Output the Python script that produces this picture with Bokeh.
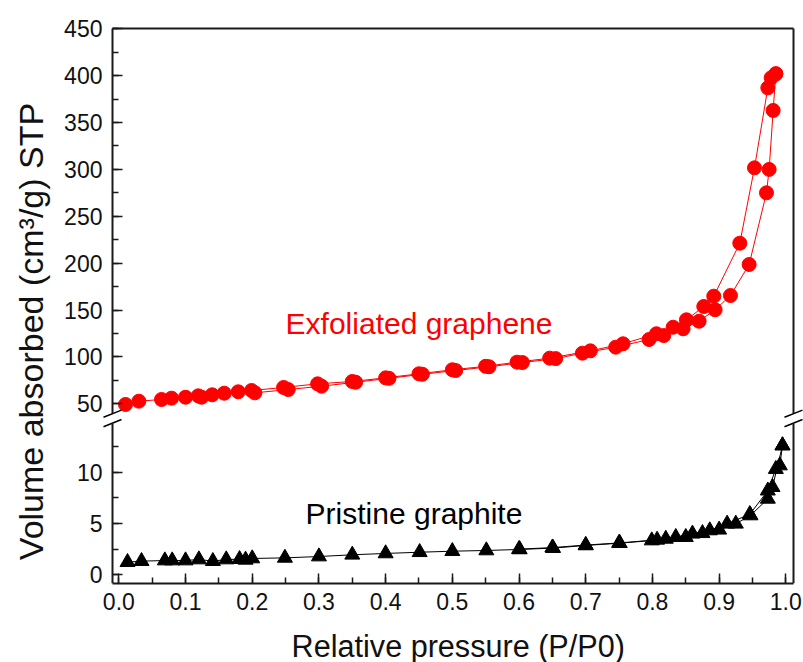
import math
from bokeh.plotting import figure
from bokeh.models import (Range1d, SingleIntervalTicker, FixedTicker, LinearAxis,
                          Label, NumeralTickFormatter)
from bokeh.layouts import row, column
from bokeh.embed import file_html
from bokeh.resources import INLINE

FONT = "Liberation Sans"

# ---------------- data ----------------
graphene_ads_x = [0.010, 0.030, 0.064, 0.079, 0.100, 0.124, 0.140, 0.158, 0.179, 0.204,
                  0.254, 0.304, 0.355, 0.405, 0.455, 0.505, 0.555, 0.605, 0.655, 0.695,
                  0.745, 0.795, 0.817, 0.846, 0.870, 0.894, 0.917, 0.945, 0.971, 0.975,
                  0.981, 0.985]
graphene_ads_y = [49.3, 52.8, 54.6, 56.0, 57.0, 57.0, 59.6, 61.3, 62.8, 61.7,
                  65.2, 68.8, 73.0, 77.2, 81.5, 85.5, 89.5, 94.0, 98.2, 104.0,
                  110.4, 118.6, 122.8, 130.0, 138.1, 150.3, 165.5, 198.6, 275.1, 300.0,
                  362.9, 402.0]
graphene_des_x = [0.985, 0.978, 0.973, 0.953, 0.931, 0.892, 0.877, 0.851, 0.831, 0.806,
                  0.756, 0.707, 0.646, 0.597, 0.550, 0.500, 0.450, 0.400, 0.350, 0.298,
                  0.247, 0.199, 0.119]
graphene_des_y = [402.0, 397.7, 387.0, 301.7, 221.3, 164.8, 153.8, 139.6, 131.7, 124.7,
                  114.0, 106.5, 98.7, 94.4, 90.0, 86.3, 82.0, 77.7, 73.8, 71.3,
                  67.4, 64.2, 58.5]

graphite_ads_x = [0.013, 0.034, 0.069, 0.080, 0.100, 0.120, 0.141, 0.161, 0.181, 0.190,
                  0.200, 0.249, 0.300, 0.350, 0.400, 0.451, 0.500, 0.551, 0.601, 0.651,
                  0.700, 0.751, 0.799, 0.820, 0.850, 0.875, 0.900, 0.925, 0.947, 0.973,
                  0.980, 0.995]
graphite_ads_y = [1.23, 1.33, 1.39, 1.39, 1.39, 1.49, 1.33, 1.49, 1.52, 1.46,
                  1.59, 1.65, 1.78, 1.95, 2.08, 2.20, 2.30, 2.37, 2.47, 2.60,
                  2.86, 3.08, 3.34, 3.50, 3.67, 4.05, 4.39, 4.97, 5.78, 7.40,
                  8.54, 12.6]
graphite_des_x = [0.995, 0.991, 0.985, 0.973, 0.946, 0.912, 0.886, 0.860, 0.835, 0.807,
                  0.750, 0.700, 0.650, 0.600]
graphite_des_y = [12.6, 10.65, 10.30, 8.20, 5.90, 4.97, 4.32, 4.00, 3.67, 3.41,
                  3.10, 2.90, 2.65, 2.50]

x_label = "Relative pressure (P/P0)"
y_label = "Volume absorbed (cm³/g) STP"
label_graphene = "Exfoliated graphene"
label_graphite = "Pristine graphite"

# ---------------- layout constants (page pixels) ----------------
PAGE_W, PAGE_H = 803, 662
YLAB_W = 52                      # strip holding the y title
PANEL_W = PAGE_W - YLAB_W
FRAME_L = 58                     # frame left edge on page (axis line drawn at 112)
B_LEFT = FRAME_L - YLAB_W
AXIS_PX_L, AXIS_PX_R = 112, 793  # page columns of the left / right axis lines
TOP_H = 418                      # top panel canvas 0..418
TOP_FRAME_T = 10                 # its frame starts at 10 (axis line drawn at 28)
AXIS_PX_T = 28
BOT_FRAME_H, BOT_B = 165, 46     # bottom panel: frame 418..583
BOT_H = BOT_FRAME_H + BOT_B
XLAB_H = PAGE_H - TOP_H - BOT_H  # strip holding the x title

AX_X0, AX_X1 = -0.0095, 1.0115   # x values of the left / right axis lines
SX = 667.0                       # px per unit of P/P0
X_LO = AX_X0 - (AXIS_PX_L - FRAME_L) / SX
X_HI = AX_X1 + (PAGE_W - AXIS_PX_R) / SX

SY_TOP = 0.9375                  # px per unit, top panel
AX_Y_TOP = 450.32                # value at the top border line
TOP0 = AX_Y_TOP - (TOP_H - AXIS_PX_T) / SY_TOP
TOP1 = AX_Y_TOP + (AXIS_PX_T - TOP_FRAME_T) / SY_TOP
BOT0, BOT1 = -0.848, 15.23
sy_bot = BOT_FRAME_H / (BOT1 - BOT0)


def top_val(py):
    return AX_Y_TOP - (py - AXIS_PX_T) / SY_TOP


def bot_val(py):
    return BOT1 - (py - TOP_H) / sy_bot


xr = Range1d(X_LO, X_HI)
AX_COLOR = "#1a1a1a"
TXT_COLOR = "#111111"


def style_axis(ax, ticker, standoff):
    ax.ticker = ticker
    ax.axis_line_width = 2
    ax.axis_line_color = AX_COLOR
    ax.major_tick_in = 10
    ax.major_tick_out = 0
    ax.minor_tick_in = 6
    ax.minor_tick_out = 0
    ax.major_tick_line_width = 1.5
    ax.minor_tick_line_width = 1.5
    ax.major_tick_line_color = AX_COLOR
    ax.minor_tick_line_color = AX_COLOR
    ax.major_label_text_font = FONT
    ax.major_label_text_font_size = "23px"
    ax.major_label_text_color = TXT_COLOR
    ax.major_label_standoff = standoff


def plain(ax, bounds, loc):
    ax.ticker = FixedTicker(ticks=[])
    ax.major_tick_line_color = None
    ax.minor_tick_line_color = None
    ax.axis_line_width = 2
    ax.axis_line_color = AX_COLOR
    ax.bounds = bounds
    ax.fixed_location = loc
    return ax


def break_pair(p, y_a, y_b):
    dx = 9 / SX
    p.segment(x0=[AX_X0 - dx, AX_X1 - dx], y0=[y_a, y_a],
              x1=[AX_X0 + dx, AX_X1 + dx], y1=[y_b, y_b],
              line_color="black", line_width=1.5)


# ---------------- top panel ----------------
p1 = figure(width=PANEL_W, height=TOP_H, x_range=xr, y_range=Range1d(TOP0, TOP1),
            output_backend="svg", toolbar_location=None, x_axis_location="above",
            min_border_left=B_LEFT, min_border_right=0,
            min_border_top=TOP_FRAME_T, min_border_bottom=0)
p1.outline_line_color = None
p1.grid.visible = False
plain(p1.xaxis[0], (AX_X0, AX_X1), AX_Y_TOP)

cross_top = top_val(413.2)
ly1 = p1.yaxis[0]
style_axis(ly1, SingleIntervalTicker(interval=50, num_minor_ticks=2), 10)
ly1.bounds = (cross_top, AX_Y_TOP)
ly1.fixed_location = AX_X0
p1.add_layout(plain(LinearAxis(), (cross_top, AX_Y_TOP), AX_X1), "right")

p1.line(graphene_ads_x, graphene_ads_y, line_color="red", line_width=1)
p1.line(graphene_des_x, graphene_des_y, line_color="red", line_width=1)
p1.scatter(graphene_ads_x, graphene_ads_y, marker="circle", size=14, color="red")
p1.scatter(graphene_des_x, graphene_des_y, marker="circle", size=14, color="red")

p1.add_layout(Label(x=0.25, y=top_val(322.6), text=label_graphene, text_color="red",
                    text_font=FONT, text_font_size="30px", text_baseline="middle"))

break_pair(p1, top_val(416.8), top_val(409.6))

# ---------------- bottom panel ----------------
p2 = figure(width=PANEL_W, height=BOT_H, x_range=xr, y_range=Range1d(BOT0, BOT1),
            output_backend="svg", toolbar_location=None,
            min_border_left=B_LEFT, min_border_right=0,
            min_border_top=0, min_border_bottom=BOT_B)
p2.outline_line_color = None
p2.grid.visible = False

cross_bot = bot_val(422.6)
ly2 = p2.yaxis[0]
style_axis(ly2, SingleIntervalTicker(interval=5, num_minor_ticks=2), 10)
ly2.bounds = (BOT0, cross_bot)
ly2.fixed_location = AX_X0
p2.add_layout(plain(LinearAxis(), (BOT0, cross_bot), AX_X1), "right")

xa = p2.xaxis[0]
style_axis(xa, SingleIntervalTicker(interval=0.1, num_minor_ticks=2), 9)
xa.formatter = NumeralTickFormatter(format="0.0")
xa.bounds = (AX_X0, AX_X1)

p2.line(graphite_ads_x, graphite_ads_y, line_color="black", line_width=1)
p2.line(graphite_des_x, graphite_des_y, line_color="black", line_width=1)
p2.scatter(graphite_ads_x, graphite_ads_y, marker="triangle", size=15, color="black")
p2.scatter(graphite_des_x, graphite_des_y, marker="triangle", size=15, color="black")

p2.add_layout(Label(x=0.28, y=bot_val(513.1), text=label_graphite, text_color="black",
                    text_font=FONT, text_font_size="30px", text_baseline="middle"))

break_pair(p2, bot_val(426.2), bot_val(419.0))

# ---------------- x title strip ----------------
px_ = figure(width=PANEL_W, height=XLAB_H, x_range=Range1d(0, PANEL_W),
             y_range=Range1d(0, XLAB_H), output_backend="svg", toolbar_location=None,
             x_axis_location=None, y_axis_location=None, min_border=0)
px_.outline_line_color = None
px_.grid.visible = False
px_.add_layout(Label(x=287 - YLAB_W, y=PAGE_H - 645.5, text=x_label, text_color=TXT_COLOR,
                     text_font=FONT, text_font_size="30.6px", text_align="left",
                     text_baseline="middle"))

# ---------------- y title strip ----------------
pl = figure(width=YLAB_W, height=PAGE_H, x_range=Range1d(0, YLAB_W),
            y_range=Range1d(0, PAGE_H), output_backend="svg",
            toolbar_location=None, x_axis_location=None, y_axis_location=None,
            min_border=0)
pl.outline_line_color = None
pl.grid.visible = False
pl.add_layout(Label(x=30.5, y=PAGE_H - 331, text=y_label, angle=math.pi / 2,
                    text_align="center", text_baseline="middle",
                    text_font=FONT, text_font_size="34px", text_color=TXT_COLOR))

layout = row(pl, column(p1, p2, px_, spacing=0), spacing=0)

open("out.html", "w").write(file_html(layout, INLINE))
